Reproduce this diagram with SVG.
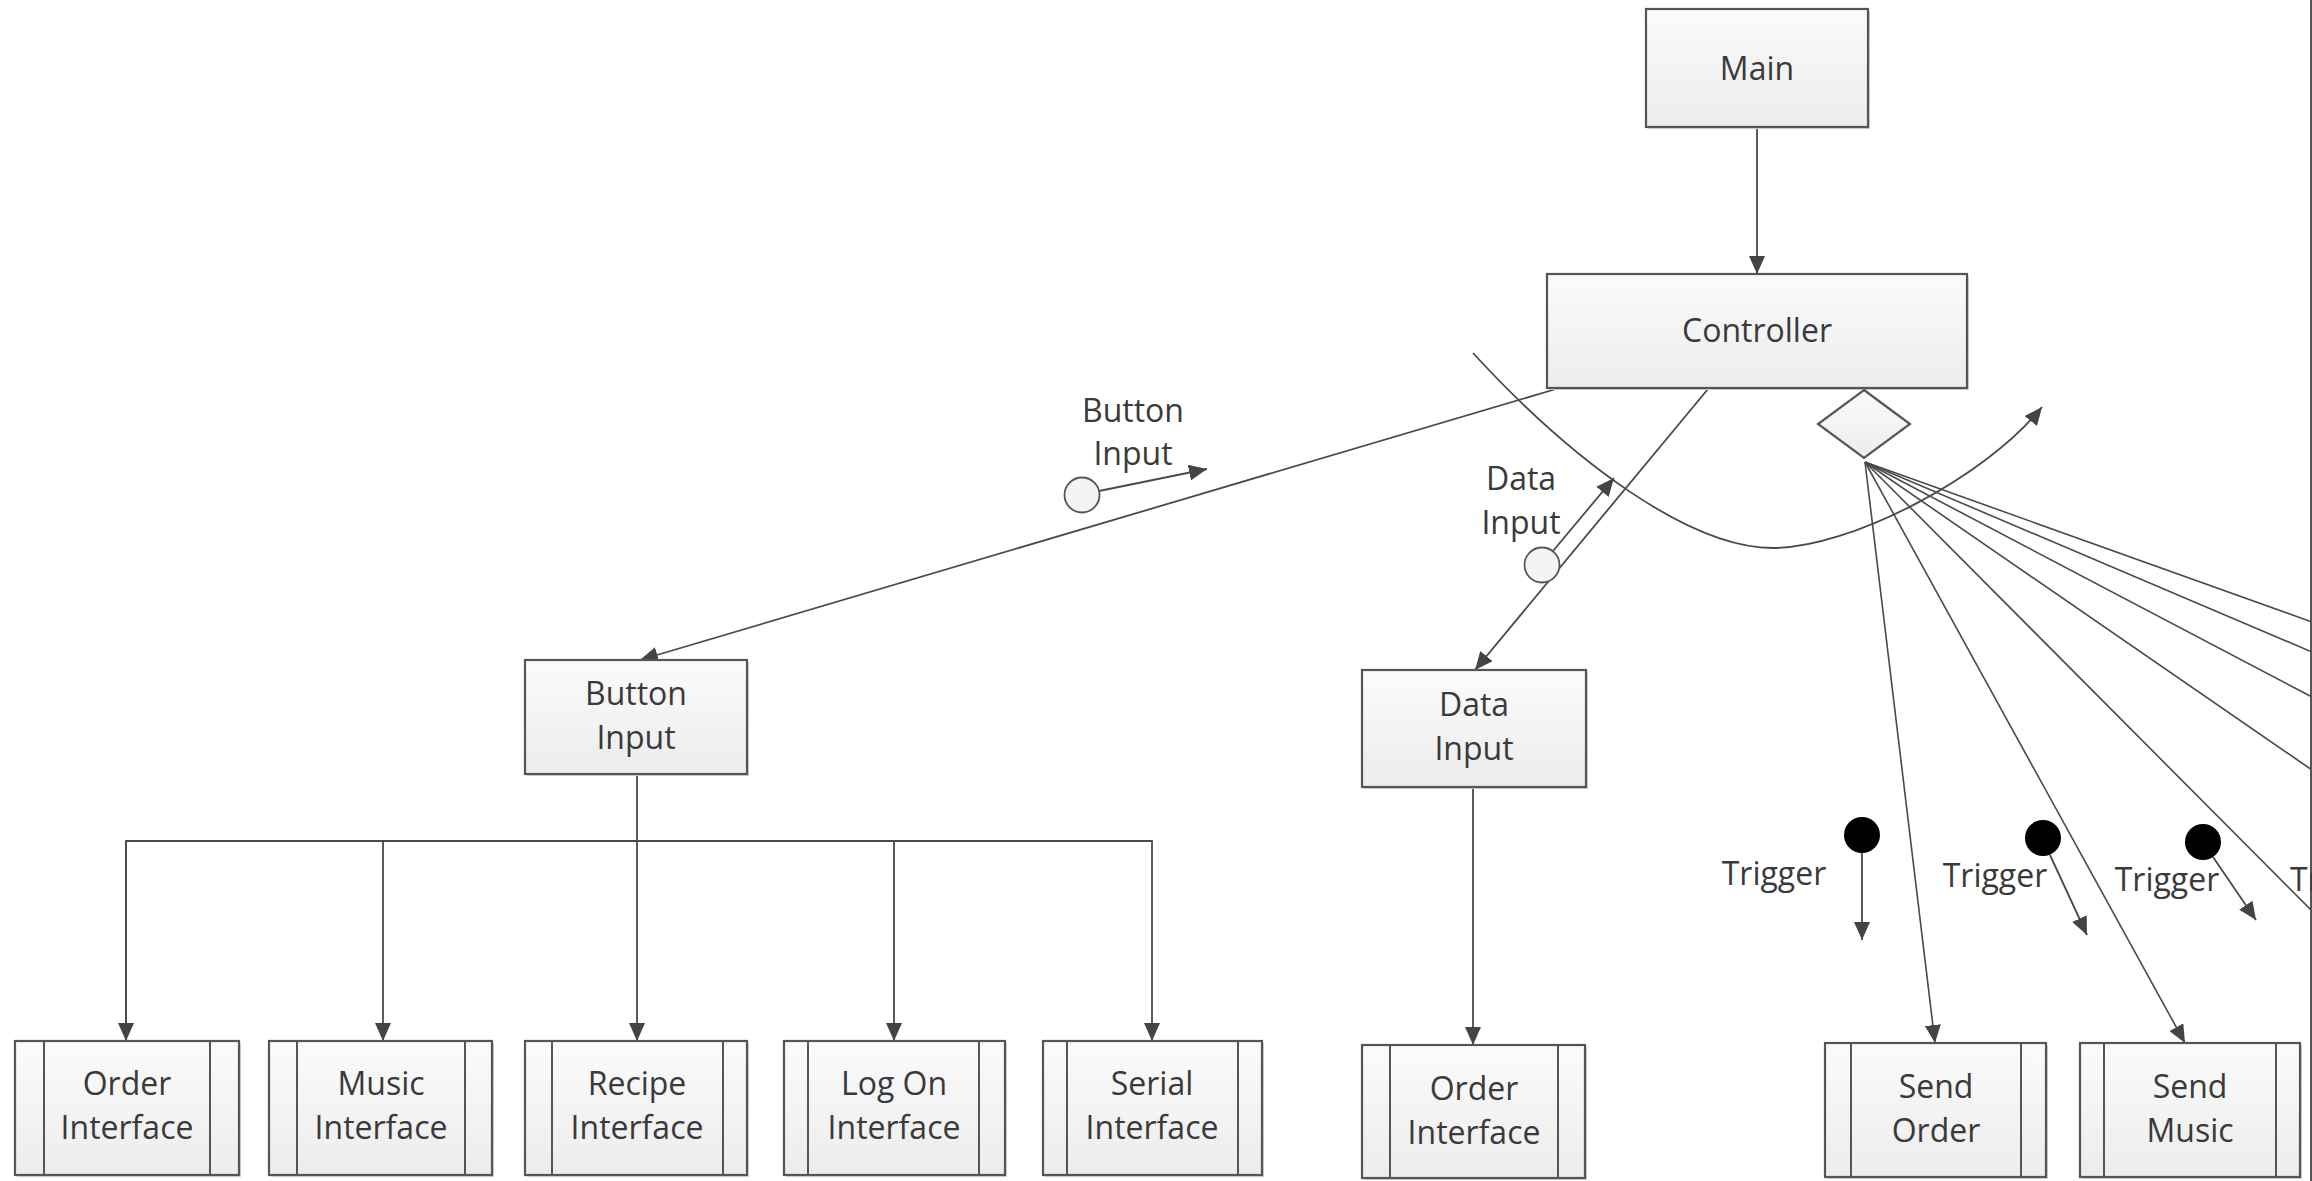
<svg xmlns="http://www.w3.org/2000/svg" width="2312" height="1181" viewBox="0 0 2312 1181">
  <defs>
    <linearGradient id="boxFill" x1="0" y1="0" x2="0" y2="1">
      <stop offset="0" stop-color="#fbfbfb"/>
      <stop offset="1" stop-color="#ececec"/>
    </linearGradient>
    <marker id="arrow" viewBox="0 0 18 16" refX="18" refY="8" markerWidth="18" markerHeight="16" markerUnits="userSpaceOnUse" orient="auto">
      <path d="M0,0 L18,8 L0,16 z" fill="#444"/>
    </marker>
  </defs>
  <style>
    .box { fill: url(#boxFill); stroke: #555; stroke-width: 2.2; }
    .shadow { fill: #d4d4d4; }
    .strip { stroke: #555; stroke-width: 2; }
    .lbl { font-family: "Open Sans", "Liberation Sans", sans-serif; font-size: 32px; fill: #3a3a3a; text-anchor: middle; }
    .conn { fill: none; stroke: #4a4a4a; stroke-width: 1.8; }
    .fan { fill: none; stroke: #4a4a4a; stroke-width: 1.6; }
    .token { fill: #f4f4f4; stroke: #555; stroke-width: 1.8; }
    .dot { fill: #000; }
  </style>

  <rect width="2312" height="1181" fill="#ffffff"/>

  <!-- connectors -->
  <g id="connectors">
    <line class="conn" x1="1757" y1="127" x2="1757" y2="274" marker-end="url(#arrow)"/>
    <line class="conn" x1="1556" y1="389" x2="640" y2="660" marker-end="url(#arrow)"/>
    <line class="conn" x1="1708" y1="389" x2="1475" y2="670" marker-end="url(#arrow)"/>
    <!-- Button Input bus -->
    <line class="conn" x1="637" y1="774" x2="637" y2="1041" marker-end="url(#arrow)"/>
    <polyline class="conn" points="126,1041 126,841 1152,841 1152,1041" marker-end="url(#arrow)"/>
    <line class="conn" x1="126" y1="841" x2="126" y2="1041" marker-end="url(#arrow)"/>
    <line class="conn" x1="383" y1="841" x2="383" y2="1041" marker-end="url(#arrow)"/>
    <line class="conn" x1="894" y1="841" x2="894" y2="1041" marker-end="url(#arrow)"/>
    <!-- Data Input down -->
    <line class="conn" x1="1473" y1="787" x2="1473" y2="1045" marker-end="url(#arrow)"/>
    <!-- iteration arc -->
    <path class="conn" d="M1473,353 C1573,462 1690,548 1773,548 C1850,548 1985,478 2042,407" marker-end="url(#arrow)"/>
    <!-- fan from the decision diamond -->
    <line class="fan" x1="1865" y1="462" x2="1935" y2="1043" marker-end="url(#arrow)"/>
    <line class="fan" x1="1865" y1="462" x2="2185" y2="1043" marker-end="url(#arrow)"/>
    <line class="fan" x1="1865" y1="462" x2="2312" y2="911"/>
    <line class="fan" x1="1865" y1="462" x2="2312" y2="770"/>
    <line class="fan" x1="1865" y1="462" x2="2312" y2="697"/>
    <line class="fan" x1="1865" y1="462" x2="2312" y2="652"/>
    <line class="fan" x1="1865" y1="462" x2="2312" y2="622"/>
    <!-- message tokens -->
    <line class="conn" x1="1099" y1="491" x2="1207" y2="469" marker-end="url(#arrow)"/>
    <line class="conn" x1="1553" y1="551" x2="1614" y2="478" marker-end="url(#arrow)"/>
    <line class="conn" x1="1862" y1="853" x2="1862" y2="940" marker-end="url(#arrow)"/>
    <line class="conn" x1="2050" y1="855" x2="2087" y2="935" marker-end="url(#arrow)"/>
    <line class="conn" x1="2213" y1="857" x2="2256" y2="920" marker-end="url(#arrow)"/>
    <!-- right frame edge -->
    <line x1="2311" y1="0" x2="2311" y2="1181" stroke="#555" stroke-width="2"/>
  </g>

  <!-- message token markers and labels -->
  <g id="token-button-input">
    <circle class="token" cx="1082" cy="495" r="17.5"/>
    <text class="lbl" x="1133" y="422">Button</text>
    <text class="lbl" x="1133" y="465">Input</text>
  </g>
  <g id="token-data-input">
    <circle class="token" cx="1542" cy="565" r="17.5"/>
    <text class="lbl" x="1521" y="490">Data</text>
    <text class="lbl" x="1521" y="534">Input</text>
  </g>
  <g id="trigger-1">
    <circle class="dot" cx="1862" cy="835" r="18"/>
    <text class="lbl" x="1774" y="885">Trigger</text>
  </g>
  <g id="trigger-2">
    <circle class="dot" cx="2043" cy="838" r="18"/>
    <text class="lbl" x="1995" y="887">Trigger</text>
  </g>
  <g id="trigger-3">
    <circle class="dot" cx="2203" cy="842" r="18"/>
    <text class="lbl" x="2167" y="891">Trigger</text>
  </g>
  <g id="trigger-4">
    <text class="lbl" x="2290" y="891" style="text-anchor:start">Trigger</text>
  </g>

  <!-- nodes -->
  <g id="main">
    <rect class="shadow" x="1648" y="11" width="222" height="118"/>
    <rect class="box" x="1646" y="9" width="222" height="118"/>
    <text class="lbl" x="1757" y="80">Main</text>
  </g>
  <g id="controller">
    <rect class="shadow" x="1549" y="276" width="420" height="114"/>
    <rect class="box" x="1547" y="274" width="420" height="114"/>
    <text class="lbl" x="1757" y="342">Controller</text>
  </g>
  <g id="decision">
    <polygon class="box" points="1864,390 1910,424 1864,458 1818,424"/>
  </g>
  <g id="button-input">
    <rect class="shadow" x="527" y="662" width="222" height="114"/>
    <rect class="box" x="525" y="660" width="222" height="114"/>
    <text class="lbl" x="636" y="705">Button</text>
    <text class="lbl" x="636" y="749">Input</text>
  </g>
  <g id="data-input">
    <rect class="shadow" x="1364" y="672" width="224" height="117"/>
    <rect class="box" x="1362" y="670" width="224" height="117"/>
    <text class="lbl" x="1474" y="716">Data</text>
    <text class="lbl" x="1474" y="760">Input</text>
  </g>

  <g id="order-interface">
    <rect class="shadow" x="17" y="1043" width="224" height="134"/>
    <rect class="box" x="15" y="1041" width="224" height="134"/>
    <line class="strip" x1="44" y1="1041" x2="44" y2="1175"/>
    <line class="strip" x1="210" y1="1041" x2="210" y2="1175"/>
    <text class="lbl" x="127" y="1095">Order</text>
    <text class="lbl" x="127" y="1139">Interface</text>
  </g>
  <g id="music-interface">
    <rect class="shadow" x="271" y="1043" width="223" height="134"/>
    <rect class="box" x="269" y="1041" width="223" height="134"/>
    <line class="strip" x1="297" y1="1041" x2="297" y2="1175"/>
    <line class="strip" x1="465" y1="1041" x2="465" y2="1175"/>
    <text class="lbl" x="381" y="1095">Music</text>
    <text class="lbl" x="381" y="1139">Interface</text>
  </g>
  <g id="recipe-interface">
    <rect class="shadow" x="527" y="1043" width="222" height="134"/>
    <rect class="box" x="525" y="1041" width="222" height="134"/>
    <line class="strip" x1="552" y1="1041" x2="552" y2="1175"/>
    <line class="strip" x1="723" y1="1041" x2="723" y2="1175"/>
    <text class="lbl" x="637" y="1095">Recipe</text>
    <text class="lbl" x="637" y="1139">Interface</text>
  </g>
  <g id="logon-interface">
    <rect class="shadow" x="786" y="1043" width="221" height="134"/>
    <rect class="box" x="784" y="1041" width="221" height="134"/>
    <line class="strip" x1="808" y1="1041" x2="808" y2="1175"/>
    <line class="strip" x1="979" y1="1041" x2="979" y2="1175"/>
    <text class="lbl" x="894" y="1095">Log On</text>
    <text class="lbl" x="894" y="1139">Interface</text>
  </g>
  <g id="serial-interface">
    <rect class="shadow" x="1045" y="1043" width="219" height="134"/>
    <rect class="box" x="1043" y="1041" width="219" height="134"/>
    <line class="strip" x1="1067" y1="1041" x2="1067" y2="1175"/>
    <line class="strip" x1="1238" y1="1041" x2="1238" y2="1175"/>
    <text class="lbl" x="1152" y="1095">Serial</text>
    <text class="lbl" x="1152" y="1139">Interface</text>
  </g>
  <g id="order-interface-2">
    <rect class="shadow" x="1364" y="1047" width="223" height="133"/>
    <rect class="box" x="1362" y="1045" width="223" height="133"/>
    <line class="strip" x1="1390" y1="1045" x2="1390" y2="1178"/>
    <line class="strip" x1="1558" y1="1045" x2="1558" y2="1178"/>
    <text class="lbl" x="1474" y="1100">Order</text>
    <text class="lbl" x="1474" y="1144">Interface</text>
  </g>
  <g id="send-order">
    <rect class="shadow" x="1827" y="1045" width="221" height="134"/>
    <rect class="box" x="1825" y="1043" width="221" height="134"/>
    <line class="strip" x1="1851" y1="1043" x2="1851" y2="1177"/>
    <line class="strip" x1="2021" y1="1043" x2="2021" y2="1177"/>
    <text class="lbl" x="1936" y="1098">Send</text>
    <text class="lbl" x="1936" y="1142">Order</text>
  </g>
  <g id="send-music">
    <rect class="shadow" x="2082" y="1045" width="220" height="134"/>
    <rect class="box" x="2080" y="1043" width="220" height="134"/>
    <line class="strip" x1="2104" y1="1043" x2="2104" y2="1177"/>
    <line class="strip" x1="2276" y1="1043" x2="2276" y2="1177"/>
    <text class="lbl" x="2190" y="1098">Send</text>
    <text class="lbl" x="2190" y="1142">Music</text>
  </g>
</svg>
